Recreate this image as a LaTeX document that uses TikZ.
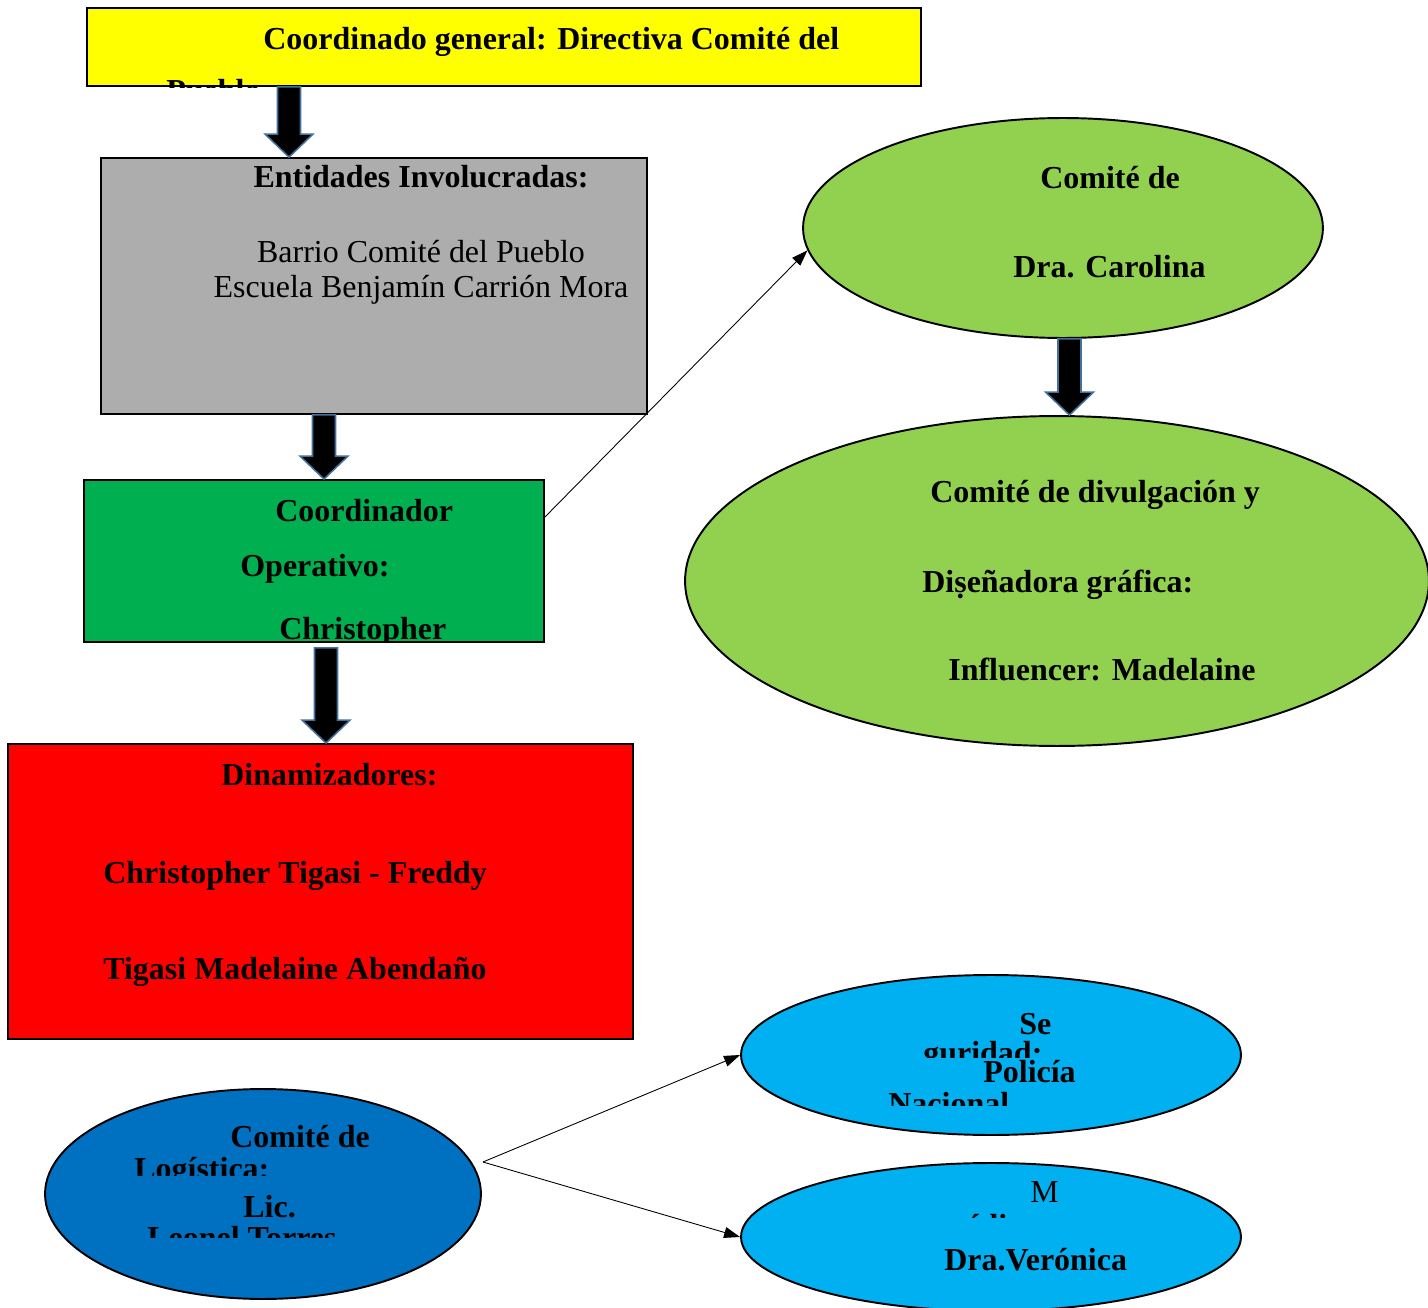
\documentclass[tikz,border=0pt]{standalone}
\usepackage{fontspec}
\setmainfont{Liberation Serif}
\usetikzlibrary{shapes.geometric,arrows.meta,calc}

\definecolor{genyellow}{HTML}{FFFF00}
\definecolor{entgray}{HTML}{ADADAD}
\definecolor{opgreen}{HTML}{00B050}
\definecolor{dinred}{HTML}{FF0000}
\definecolor{comgreen}{HTML}{92D050}
\definecolor{logblue}{HTML}{0070C0}
\definecolor{segblue}{HTML}{00B0F0}
\definecolor{arrowedge}{HTML}{41719C}

\tikzset{
  box/.style={draw, line width=1.1pt, inner sep=0pt},
  oval/.style={ellipse, draw, line width=1.1pt, inner sep=0pt},
  txt/.style={anchor=base west, inner sep=0pt, font=\fontsize{18.2}{22}\selectfont\bfseries},
  lighttxt/.style={txt, font=\fontsize{18.2}{22}\selectfont},
  fatarrow/.style={fill=black, draw=arrowedge, line width=0.9pt, line join=miter},
  link/.style={draw, line width=0.5pt, -{Triangle[length=0.32cm, width=0.22cm]}},
}

\newcommand\blockarrow[2]{%
  \draw[fatarrow] let \p1=(#1), \p2=(#2) in
    (\x1-0.23cm,\y1) -- (\x1+0.23cm,\y1) -- (\x1+0.23cm,\y2+0.46cm)
    -- (\x1+0.48cm,\y2+0.46cm) -- (\x1,\y2) -- (\x1-0.48cm,\y2+0.46cm)
    -- (\x1-0.23cm,\y2+0.46cm) -- cycle;}

\begin{document}
\begin{tikzpicture}[x=0.02cm, y=-0.02cm]
  \useasboundingbox (0,0) rectangle (1428,1308);

  \node[box, fill=genyellow, minimum width=16.68cm, minimum height=1.56cm] (gen) at (504,47) {};
  \node[box, fill=entgray, minimum width=10.92cm, minimum height=5.12cm] (ent) at (374,286) {};
  \node[box, fill=opgreen, minimum width=9.2cm, minimum height=3.24cm] (op) at (314,561) {};
  \node[box, fill=dinred, minimum width=12.5cm, minimum height=5.9cm] (din) at (320.5,891.5) {};
  \node[oval, fill=comgreen, minimum width=10.4cm, minimum height=4.4cm] (carol) at (1063,228) {};
  \node[oval, fill=comgreen, minimum width=14.88cm, minimum height=6.6cm] (div) at (1057,581) {};
  \node[oval, fill=logblue, minimum width=8.72cm, minimum height=4.2cm] (log) at (263,1194) {};
  \node[oval, fill=segblue, minimum width=10cm, minimum height=3.2cm] (seg) at (991,1055) {};
  \node[oval, fill=segblue, minimum width=10cm, minimum height=2.96cm] (med) at (991,1237) {};

  \blockarrow{289,0 |- gen.south}{289,0 |- ent.north}
  \blockarrow{324,0 |- ent.south}{324,0 |- op.north}
  \blockarrow{$(326,0 |- op.south)+(0,5)$}{326,0 |- din.north}
  \blockarrow{1069.5,0 |- carol.south}{1069.5,0 |- div.north}

  \draw[link] ($(op.north east)+(0,38)$) -- (carol.185);
  \draw[link] ($(log.east)+(1,-32)$) -- (seg.west);
  \draw[link] ($(log.east)+(1,-32)$) -- (med.west);

  \node[txt] (gen-a) at (263,50) {Coordinado general: Directiva Comité del};
  \begin{scope}
    \clip (0,0) rectangle (930,88);
    \node[txt] (gen-b) at (166,102) {Pueblo};
  \end{scope}

  \node[txt, anchor=base] (ent-a) at (421,188) {Entidades Involucradas:};
  \node[lighttxt, anchor=base] (ent-b) at (421,262) {Barrio Comité del Pueblo};
  \node[lighttxt, anchor=base] (ent-c) at (421,297) {Escuela Benjamín Carrión Mora};

  \node[txt] (op-a) at (275,521) {Coordinador};
  \node[txt] (op-b) at (240,576) {Operativo:};
  \begin{scope}
    \clip (84,600) rectangle (544,640);
    \node[txt] (op-c) at (279,639) {Christopher};
  \end{scope}

  \node[txt] (din-a) at (221,785) {Dinamizadores:};
  \node[txt] (din-b) at (103,883) {Christopher Tigasi - Freddy};
  \node[txt] (din-c) at (103,979) {Tigasi Madelaine Abendaño};

  \node[txt] (carol-a) at (1040,189) {Comité de};
  \node[txt] (carol-b) at (1013,277) {Dra. Carolina};

  \node[txt] (div-a) at (930,502) {Comité de divulgación y};
  \node[txt] (div-b) at (922,592) {Diṣeñadora gráfica:};
  \node[txt] (div-c) at (948,680) {Influencer: Madelaine};

  \node[txt] (log-a) at (230,1147) {Comité de};
  \node[txt] (log-c) at (243,1217) {Lic.};
  \begin{scope}
    \clip (50,1150) rectangle (480,1175);
    \node[txt] (log-b) at (134,1179) {Logística:};
  \end{scope}
  \begin{scope}
    \clip (50,1220) rectangle (480,1237);
    \node[txt] (log-d) at (147,1248) {Leonel Torres};
  \end{scope}

  \node[txt] (seg-a) at (1019,1034) {Se};
  \node[txt] (seg-c) at (983,1082) {Policía};
  \begin{scope}
    \clip (750,1036) rectangle (1240,1057);
    \node[txt] (seg-b) at (923,1063) {guridad:};
  \end{scope}
  \begin{scope}
    \clip (750,1085) rectangle (1240,1105);
    \node[txt] (seg-d) at (888,1114) {Nacional};
  \end{scope}

  \node[lighttxt] (med-a) at (1030,1202) {M};
  \begin{scope}
    \clip (750,1211) rectangle (1240,1217);
    \node[txt] (med-b) at (966,1236) {édico:};
  \end{scope}
  \node[txt] (med-c) at (944,1270) {Dra.Verónica};
\end{tikzpicture}
\end{document}
